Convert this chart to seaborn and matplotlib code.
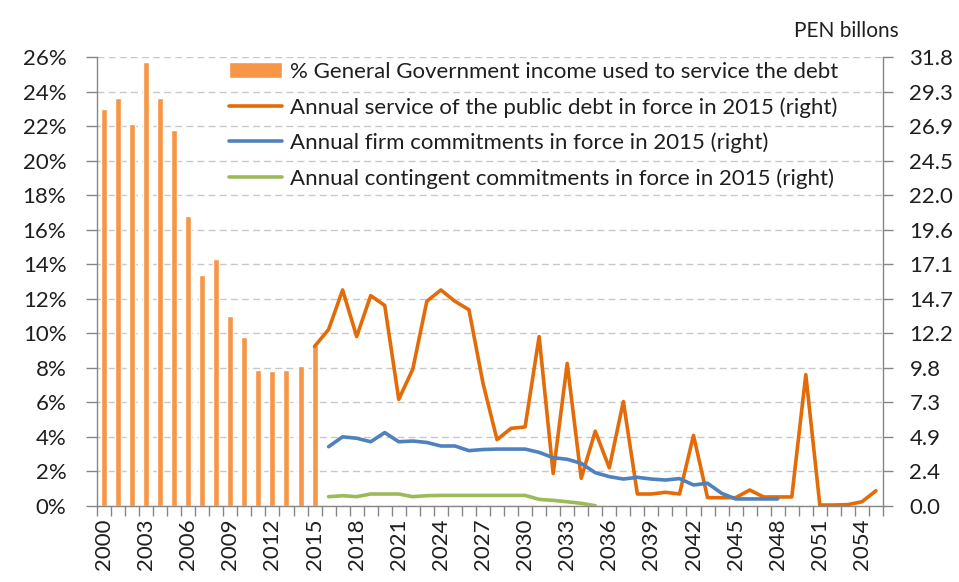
import numpy as np
import pandas as pd
import matplotlib
matplotlib.use("Agg")
import matplotlib.pyplot as plt
import seaborn as sns

# ---------------- data ----------------
years = list(range(2000, 2056))

bar_years = list(range(2000, 2016))
pct_income = [23.0, 23.6, 22.1, 25.7, 23.6, 21.8, 16.8, 13.4, 14.3, 11.0,
              9.8, 7.9, 7.8, 7.9, 8.1, 9.3]

service_years = list(range(2015, 2056))
debt_service = [11.3, 12.5, 15.3, 12.0, 14.9, 14.2, 7.55, 9.7, 14.5, 15.3,
                14.5, 13.9, 8.7, 4.7, 5.5, 5.6, 12.0, 2.3, 10.1, 1.96,
                5.3, 2.7, 7.4, 0.85, 0.85, 0.97, 0.85, 5.0, 0.59, 0.59,
                0.59, 1.13, 0.64, 0.64, 0.64, 9.3, 0.07, 0.07, 0.1, 0.3, 1.08]

firm_years = list(range(2016, 2049))
firm_commit = [4.2, 4.9, 4.8, 4.55, 5.2, 4.55, 4.6, 4.5, 4.25, 4.25,
               3.92, 4.0, 4.03, 4.03, 4.03, 3.8, 3.42, 3.31, 3.02, 2.36,
               2.08, 1.91, 2.03, 1.91, 1.84, 1.94, 1.49, 1.61, 0.9, 0.5,
               0.5, 0.5, 0.5]

cont_years = list(range(2016, 2036))
cont_commit = [0.66, 0.73, 0.66, 0.85, 0.85, 0.85, 0.66, 0.73, 0.75, 0.75,
               0.75, 0.75, 0.75, 0.75, 0.75, 0.47, 0.40, 0.30, 0.19, 0.02]

left_ticks = [0, 2, 4, 6, 8, 10, 12, 14, 16, 18, 20, 22, 24, 26]
right_max = 31.8
right_labels = ["0.0", "2.4", "4.9", "7.3", "9.8", "12.2", "14.7", "17.1",
                "19.6", "22.0", "24.5", "26.9", "29.3", "31.8"]

labels = ["% General Government income used to service the debt",
          "Annual service of the public debt in force in 2015 (right)",
          "Annual firm commitments in force in 2015 (right)",
          "Annual contingent commitments in force in 2015 (right)"]

c_bar = "#F79646"
c_debt = "#E36C09"
c_firm = "#4F81BD"
c_cont = "#9BBB59"
c_axis = "#868686"

# ---------------- figure ----------------
sns.set_theme(style="white")
plt.rcParams["font.family"] = ["Lato", "DejaVu Sans"]
plt.rcParams["text.color"] = "#1F1F1F"
plt.rcParams["xtick.color"] = "#1F1F1F"
plt.rcParams["ytick.color"] = "#1F1F1F"

fig = plt.figure(figsize=(9.59, 5.82), dpi=100)
ax = fig.add_axes([97 / 959, 1 - 506 / 582, 786 / 959, 449 / 582])

x0 = years[0]
bar_df = pd.DataFrame({"x": [y - x0 for y in bar_years], "v": pct_income})
sns.barplot(data=bar_df, x="x", y="v", native_scale=True, width=0.43,
            color=c_bar, saturation=1, ax=ax, label=labels[0])

ax.set_xlim(-0.5, len(years) - 0.5)
ax.set_ylim(0, 26)
ax.set_yticks(left_ticks)
ax.set_yticklabels([f"{t}%" for t in left_ticks])
ax.set_xlabel("")
ax.set_ylabel("")

ax.set_axisbelow(True)
ax.yaxis.grid(True, linestyle=(0, (5, 3)), color="#C8C8C8", linewidth=1)
ax.xaxis.grid(False)

major_pos = [y - x0 for y in years if (y - x0) % 3 == 0]
ax.set_xticks(major_pos)
ax.set_xticklabels([str(x0 + p) for p in major_pos], rotation=90)
ax.set_xticks(np.arange(-0.5, len(years), 1.0), minor=True)
ax.tick_params(axis="x", which="major", length=0, pad=9, labelsize=16)
ax.tick_params(axis="x", which="minor", length=7, width=1, color=c_axis,
               direction="out", bottom=True)
ax.tick_params(axis="y", length=8, width=1, color=c_axis, direction="out",
               left=True, pad=14, labelsize=16)

for s in ["top", "right"]:
    ax.spines[s].set_visible(False)
for s in ["left", "bottom"]:
    ax.spines[s].set_color(c_axis)
    ax.spines[s].set_linewidth(1)

ax2 = ax.twinx()
lw = 2.6
sns.lineplot(x=[y - x0 for y in service_years], y=debt_service, ax=ax2,
             color=c_debt, linewidth=lw, label=labels[1])
sns.lineplot(x=[y - x0 for y in firm_years], y=firm_commit, ax=ax2,
             color=c_firm, linewidth=lw, label=labels[2])
sns.lineplot(x=[y - x0 for y in cont_years], y=cont_commit, ax=ax2,
             color=c_cont, linewidth=lw, label=labels[3])

ax2.set_ylim(0, right_max)
rticks = [right_max * i / 13 for i in range(14)]
ax2.set_yticks(rticks)
ax2.set_yticklabels(right_labels)
ax2.set_ylabel("")
ax2.tick_params(axis="y", length=7, width=1, color=c_axis, direction="out",
                right=True, pad=12, labelsize=16)
ax2.grid(False)
for s in ["top", "left", "bottom"]:
    ax2.spines[s].set_visible(False)
ax2.spines["right"].set_color(c_axis)
ax2.spines["right"].set_linewidth(1)
ax.set_xlim(-0.5, len(years) - 0.5)

h1, l1 = ax.get_legend_handles_labels()
h2, l2 = ax2.get_legend_handles_labels()
if ax.get_legend():
    ax.get_legend().remove()
if ax2.get_legend():
    ax2.get_legend().remove()

ax2.legend(h1 + h2, l1 + l2, loc="upper left",
           bbox_to_anchor=(229 / 959, 1 - 62 / 582),
           bbox_transform=fig.transFigure, frameon=False, fontsize=16,
           handlelength=2.4, handleheight=0.75, handletextpad=0.35,
           labelspacing=0.68, borderpad=0, borderaxespad=0)

fig.text(846 / 959, 1 - 31 / 582, "PEN billons", ha="center", va="center",
         fontsize=15)

fig.savefig("out.png", dpi=100)
